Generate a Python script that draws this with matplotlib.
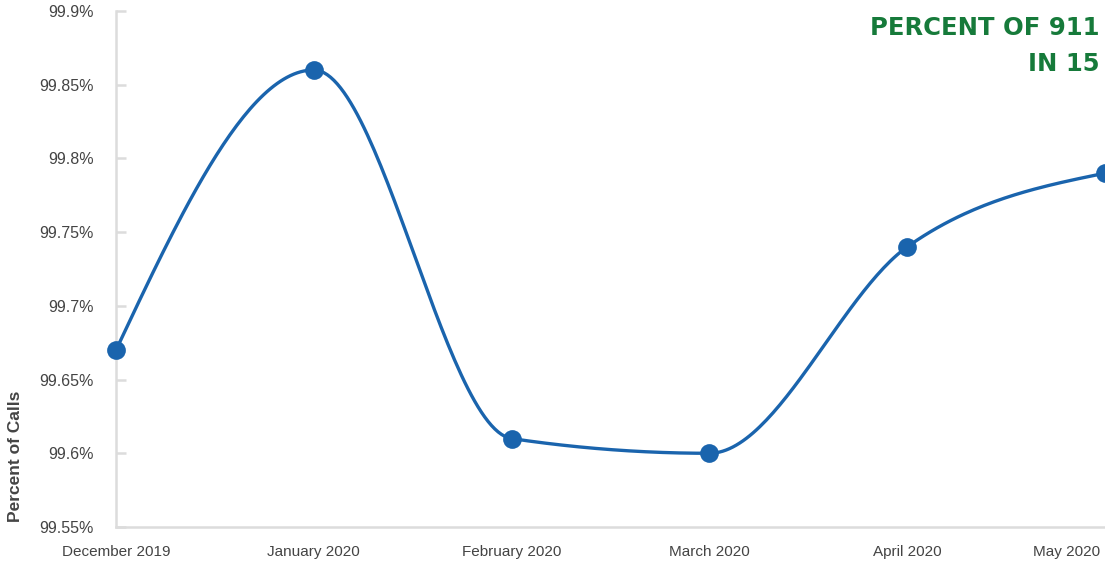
import numpy as np
import matplotlib
matplotlib.use("Agg")
import matplotlib.pyplot as plt
from matplotlib.ticker import FuncFormatter
from matplotlib.transforms import ScaledTranslation

months = ["December 2019", "January 2020", "February 2020", "March 2020", "April 2020", "May 2020"]
percent = [99.67, 99.86, 99.61, 99.60, 99.74, 99.79]
yticks = [99.55, 99.6, 99.65, 99.7, 99.75, 99.8, 99.85, 99.9]

LINE = "#1a64ad"
GRAY = "#dcdcdc"
TEXT = "#444444"
GREEN = "#167a3a"

plt.rcParams['font.family'] = ['Liberation Sans', 'DejaVu Sans']


def monotone_x(x, y, n=60):
    """d3 curveMonotoneX rendering of the line between data points."""
    x = np.asarray(x, float); y = np.asarray(y, float)
    k = len(x)
    h = np.diff(x); s = np.diff(y) / h
    t = np.zeros(k)
    for i in range(1, k - 1):
        s0, s1 = s[i - 1], s[i]
        p = (s0 * h[i] + s1 * h[i - 1]) / (h[i - 1] + h[i])
        t[i] = (np.sign(s0) + np.sign(s1)) * min(abs(s0), abs(s1), 0.5 * abs(p))
    t[0] = (3 * s[0] - t[1]) / 2
    t[-1] = (3 * s[-1] - t[-2]) / 2
    xs, ys = [], []
    u = np.linspace(0, 1, n)
    for i in range(k - 1):
        dx = h[i] / 3
        P = np.array([[x[i], y[i]], [x[i] + dx, y[i] + dx * t[i]],
                      [x[i + 1] - dx, y[i + 1] - dx * t[i + 1]], [x[i + 1], y[i + 1]]])
        b = np.stack([(1 - u) ** 3, 3 * u * (1 - u) ** 2, 3 * u ** 2 * (1 - u), u ** 3], 1)
        pts = b @ P
        xs.extend(pts[:, 0]); ys.extend(pts[:, 1])
    return np.array(xs), np.array(ys)


W, H = 1105, 563
fig = plt.figure(figsize=(W / 100, H / 100), dpi=100)
ax = fig.add_axes([116 / W, (H - 527) / H, (1105 - 116) / W, 516 / H])

xpos = np.arange(len(months))
cx, cy = monotone_x(xpos, percent)
ax.plot(cx, cy, color=LINE, lw=2.4, solid_capstyle='round', clip_on=False, zorder=2)
ax.plot(xpos, percent, 'o', color=LINE, ms=13.5, mew=0, clip_on=False, zorder=3)

ax.set_xlim(0, len(months) - 1)
ax.set_ylim(99.55, 99.9)
ax.set_yticks(yticks)
ax.yaxis.set_major_formatter(FuncFormatter(lambda v, p: f"{v:g}%"))
ax.set_xticks(xpos)
ax.set_xticklabels(months)

for s in ['top', 'right']:
    ax.spines[s].set_visible(False)
for s in ['left', 'bottom']:
    ax.spines[s].set_color(GRAY)
    ax.spines[s].set_linewidth(1.8)

ax.tick_params(axis='y', direction='in', length=7, width=1.8, color=GRAY,
               labelsize=11.5, labelcolor=TEXT, pad=16)
ax.tick_params(axis='x', length=0, labelsize=11, labelcolor=TEXT, pad=13)

lbl = ax.get_xticklabels()[-1]
lbl.set_ha('right')
lbl.set_transform(lbl.get_transform() + ScaledTranslation(-5 / 100, 0, fig.dpi_scale_trans))

fig.text(16 / W, 1 - 456 / H, "Percent of Calls", rotation=90, ha='center', va='center',
         fontsize=12.5, fontweight='bold', color=TEXT)

fig.text(1100 / W, 1 - 28 / H, "PERCENT OF 911", ha='right', va='center',
         fontsize=17.5, fontweight='heavy', color=GREEN, family=['DejaVu Sans'])
fig.text(1100 / W, 1 - 64 / H, "IN 15", ha='right', va='center',
         fontsize=17.5, fontweight='heavy', color=GREEN, family=['DejaVu Sans'])

fig.savefig("out.png", dpi=100)
